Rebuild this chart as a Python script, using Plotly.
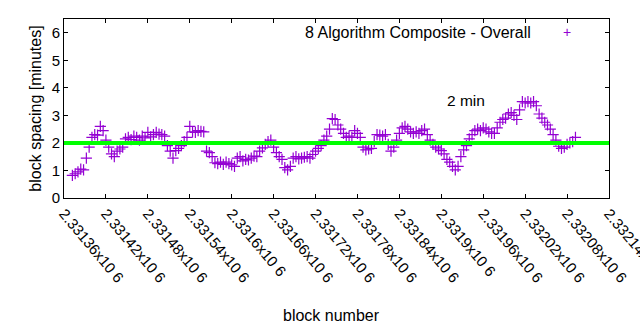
import plotly.graph_objects as go

# ---- data ----
start_block = 2331372
block_step = 4
spacing_min = [
    0.82, 0.88, 0.95, 1.05, 1.02, 1.45, 1.85, 2.2, 2.3, 2.28,
    2.6, 2.45, 2.1, 1.85, 1.6, 1.5, 1.7, 1.78, 1.85, 2.15,
    2.2, 2.12, 2.25, 2.2, 2.1, 2.25, 2.18, 2.38, 2.22, 2.3,
    2.38, 2.32, 2.3, 2.25, 1.9, 1.7, 1.45, 1.72, 1.8, 1.9,
    2.05, 2.2, 2.6, 2.4, 2.38, 2.45, 2.42, 2.4, 1.7, 1.65,
    1.5, 1.28, 1.25, 1.3, 1.22, 1.3, 1.25, 1.2, 1.15, 1.45,
    1.5, 1.35, 1.4, 1.38, 1.45, 1.52, 1.5, 1.7, 1.82, 1.95,
    2.05, 2.1, 1.85, 1.65, 1.5, 1.4, 1.1, 1.02, 1.15, 1.45,
    1.5, 1.42, 1.45, 1.48, 1.5, 1.45, 1.58, 1.7, 1.8, 1.9,
    2.1, 2.25, 2.5, 2.88, 2.85, 2.65, 2.5, 2.35, 2.2, 2.25,
    2.2, 2.45, 2.35, 2.2, 1.85, 1.75, 1.78, 1.8, 2.05, 2.3,
    2.28, 2.25, 2.3, 1.95, 1.7, 1.85, 2.1, 2.35, 2.55, 2.6,
    2.5, 2.4, 2.35, 2.4, 2.35, 2.45, 2.5, 2.3, 2.1, 1.95,
    1.85, 1.78, 1.72, 1.6, 1.4, 1.3, 1.15, 1.02, 1.15, 1.5,
    1.75, 1.9, 2.15, 2.3, 2.45, 2.5, 2.45, 2.55, 2.5, 2.4,
    2.35, 2.35, 2.55, 2.75, 2.85, 2.9, 3.05, 3.1, 3.0, 2.85,
    3.2, 3.5, 3.45, 3.5, 3.45, 3.5, 3.35, 3.05, 2.9, 2.75,
    2.65, 2.5, 2.3, 2.1, 1.88, 1.8, 1.85, 1.95, 2.0, 2.05,
    2.2,
]
blocks = [start_block + i * block_step for i in range(len(spacing_min))]

target_min = 2
x_min, x_max = 2331360, 2332140
tick_vals = list(range(2331360, 2332141, 60))
tick_text = ["2.33136x10 6", "2.33142x10 6", "2.33148x10 6", "2.33154x10 6",
             "2.3316x10 6", "2.33166x10 6", "2.33172x10 6", "2.33178x10 6",
             "2.33184x10 6", "2.3319x10 6", "2.33196x10 6", "2.33202x10 6",
             "2.33208x10 6", "2.33214x10 6"]
series_name = "8 Algorithm Composite - Overall"

FONT = "Liberation Sans, Arial, sans-serif"
PURPLE = "#9400d3"

fig = go.Figure()
fig.add_trace(go.Scatter(
    x=blocks, y=spacing_min, mode="markers", name=series_name,
    marker=dict(symbol="cross-thin", size=8, color=PURPLE,
                line=dict(color=PURPLE, width=1.2)),
    showlegend=False,
))

fig.add_shape(type="line", xref="paper", yref="y", x0=0, x1=1,
              y0=target_min, y1=target_min,
              line=dict(color="#00ff00", width=4), layer="above")

fig.add_annotation(x=0.861, y=0.927, xref="paper", yref="paper",
                   text=series_name, showarrow=False, xanchor="right",
                   yanchor="middle", font=dict(family=FONT, size=16, color="#000"))
fig.add_annotation(x=0.923, y=0.927, xref="paper", yref="paper",
                   text="+", showarrow=False, xanchor="center",
                   yanchor="middle", font=dict(family=FONT, size=14, color=PURPLE))
fig.add_annotation(x=2331935, y=3.53, xref="x", yref="y",
                   text="2 min", showarrow=False, xanchor="center",
                   yanchor="middle", font=dict(family=FONT, size=15.5, color="#000"))
fig.add_annotation(x=0.49, y=-0.659, xref="paper", yref="paper",
                   text="block number", showarrow=False, xanchor="center",
                   yanchor="middle", font=dict(family=FONT, size=16, color="#000"))

axis_common = dict(showgrid=False, zeroline=False, showline=True,
                   linecolor="black", linewidth=1, mirror="allticks",
                   ticks="inside", ticklen=4, tickcolor="black", automargin=False,
                   tickfont=dict(family=FONT, size=15, color="#000"))

fig.update_xaxes(range=[x_min, x_max], tickvals=tick_vals, ticktext=tick_text,
                 tickangle=50, ticklabeloverflow="allow", **axis_common)
fig.update_yaxes(range=[0, 6.5], tickvals=[0, 1, 2, 3, 4, 5, 6],
                 title=dict(text="block spacing [minutes]", standoff=6,
                 font=dict(family=FONT, size=16, color="#000")), **axis_common)

fig.update_layout(
    width=640, height=330,
    margin=dict(l=64, r=31, t=19, b=132, autoexpand=False),
    paper_bgcolor="white", plot_bgcolor="white",
    font=dict(family=FONT, size=15, color="#000"),
)

fig.write_html("out.html")
